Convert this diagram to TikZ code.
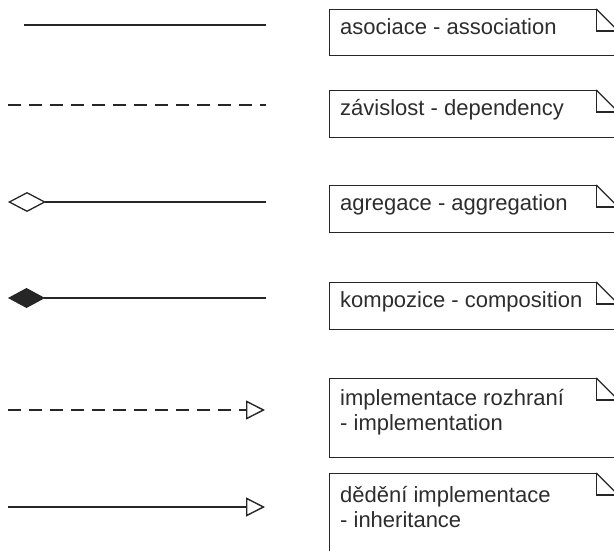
\documentclass[tikz,border=0pt]{standalone}
\usepackage{fontspec}
\setmainfont{Liberation Sans}
\usetikzlibrary{arrows.meta}
\definecolor{ink}{RGB}{38,38,38}
\definecolor{txt}{RGB}{45,45,45}
\begin{document}
\begin{tikzpicture}[x=1pt,y=-1pt,
  conn/.style={draw=ink, line width=1.4pt},
  dep/.style={conn, dash pattern=on 13.3pt off 7.7pt},
  notebox/.style={draw=ink, line width=1.2pt, rectangle, minimum width=288pt, anchor=north west, inner sep=0pt, fill=white},
  notetext/.style={text=txt, font=\fontsize{22}{25}\selectfont, anchor=base west, align=left, inner sep=0pt},
  fold/.style={draw=ink, line width=1.2pt}]
\useasboundingbox (0,0) rectangle (614,551);
\clip (0,0) rectangle (614,551);

% connectors
\coordinate (a1) at (24,25);  \coordinate (b1) at (266,25);
\coordinate (a2) at (8,105);  \coordinate (b2) at (266,105);
\coordinate (a3) at (8,202);  \coordinate (b3) at (266,202);
\coordinate (a4) at (8,298);  \coordinate (b4) at (266,298);
\coordinate (a5) at (8,410);  \coordinate (b5) at (265,410);
\coordinate (a6) at (8,507);  \coordinate (b6) at (265,507);

\draw[conn] (a1) -- (b1);
\draw[dep] (a2) -- (b2);
\draw[conn, {Diamond[open, length=38pt, width=20pt, line width=1.3pt]}-] (a3) -- (b3);
\draw[conn, {Diamond[length=37pt, width=20pt]}-] (a4) -- (b4);
\draw[dep, -{Triangle[open, length=19pt, width=19pt, line width=1.4pt]}] (a5) -- (b5);
\draw[conn, -{Triangle[open, length=19pt, width=19pt, line width=1.4pt]}] (a6) -- (b6);

% notes
\node[notebox, minimum height=46pt] (n1) at (329,9) {};
\node[notebox, minimum height=47pt] (n2) at (329,90) {};
\node[notebox, minimum height=47pt] (n3) at (329,185) {};
\node[notebox, minimum height=47pt] (n4) at (329,282) {};
\node[notebox, minimum height=79pt] (n5) at (329,378) {};
\node[notebox, minimum height=100pt] (n6) at (329,473) {};

\foreach \n in {n1,n2,n3,n4,n5,n6}{
  \fill[white] ([xshift=-22pt,yshift=1pt]\n.north east) -- ([xshift=2pt,yshift=1pt]\n.north east) -- ([xshift=2pt,yshift=-24pt]\n.north east) -- cycle;
  \draw[fold] ([xshift=-22pt]\n.north east) -- ++(24,24);
  \draw[fold] ([xshift=-22pt]\n.north east) -- ++(0,22) -- ++(24,0);
}

\node[notetext] (t1) at (340,35) {asociace - association};
\node[notetext] (t2) at (340,116) {závislost - dependency};
\node[notetext] (t3) at (340,211) {agregace - aggregation};
\node[notetext] (t4) at (340,307) {kompozice - composition};
\node[notetext] (t5) at (340,430) {implementace rozhraní\\- implementation};
\node[notetext] (t6) at (340,527) {dědění implementace\\- inheritance};
\end{tikzpicture}
\end{document}
